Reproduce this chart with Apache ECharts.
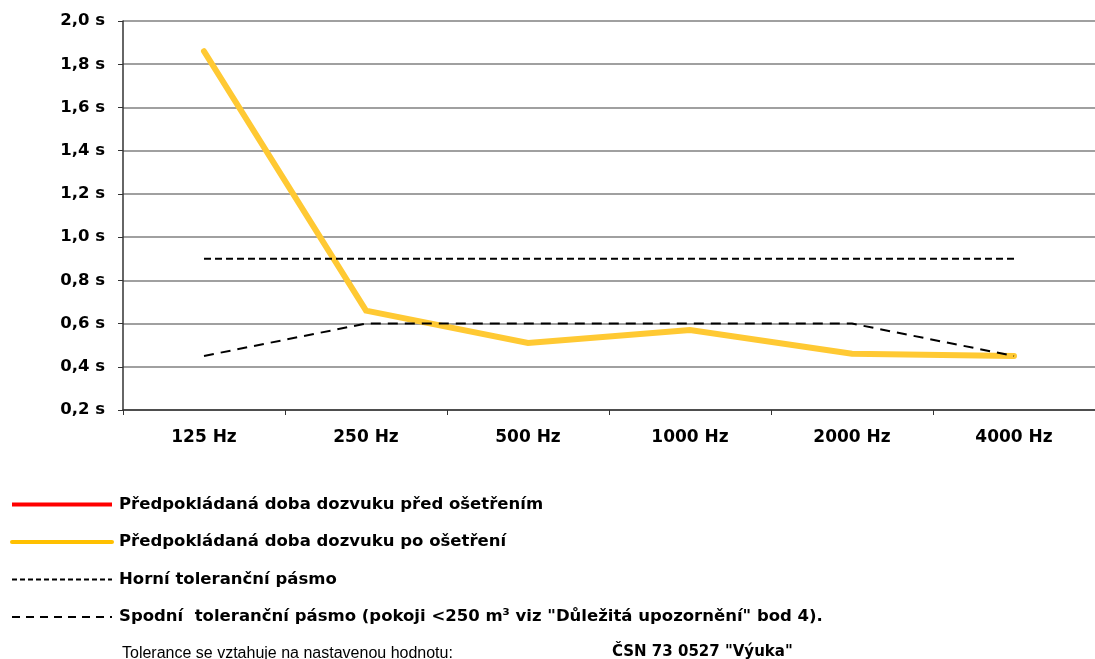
<!DOCTYPE html>
<html>
<head>
    <meta charset="utf-8">
    <title>Doba dozvuku</title>
    <script src="https://cdn.jsdelivr.net/npm/echarts@6.0.0/dist/echarts.min.js"></script>
    <style>
        html, body { margin: 0; padding: 0; background: #fff; }
        #main { width: 1095px; height: 659px; }
    </style>
</head>
<body>
<div id="main"></div>
<script>
    // pásma a hodnoty
    var frequencies = ['125 Hz', '250 Hz', '500 Hz', '1000 Hz', '2000 Hz', '4000 Hz']
    var beforeTreatment = []
    var afterTreatment = [1.86, 0.66, 0.51, 0.57, 0.46, 0.45]
    var upperTolerance = [0.9, 0.9, 0.9, 0.9, 0.9, 0.9]
    var lowerTolerance = [0.45, 0.6, 0.6, 0.6, 0.6, 0.45]

    var names = [
        'Předpokládaná doba dozvuku před ošetřením',
        'Předpokládaná doba dozvuku po ošetření',
        'Horní toleranční pásmo',
        'Spodní  toleranční pásmo (pokoji <250 m³ viz "Důležitá upozornění" bod 4).'
    ]

    var font = 'Arial, "Liberation Sans", sans-serif'
    var boldFont = '"DejaVu Sans", Arial, sans-serif'

    var myChart = echarts.init(document.getElementById('main'))

    myChart.setOption({
        animation: false,
        textStyle: { fontFamily: font },
        grid: {
            left: 123,
            right: -15,
            top: 21,
            bottom: 249
        },
        legend: {
            orient: 'vertical',
            left: 5,
            top: 491,
            itemWidth: 100,
            itemHeight: 14,
            itemGap: 20.5,
            itemStyle: { opacity: 0 },
            textStyle: {
                fontFamily: boldFont,
                fontWeight: 'bold',
                fontSize: 16.5,
                color: '#000',
                padding: [0, 0, 0, 2]
            },
            data: [
                { name: names[0], lineStyle: { width: 4 } },
                { name: names[1], lineStyle: { color: '#ffc000', width: 4 } },
                { name: names[2], lineStyle: { width: 2, type: [5, 3] } },
                { name: names[3], lineStyle: { width: 2, type: [8, 6] } }
            ]
        },
        xAxis: {
            type: 'category',
            data: frequencies,
            boundaryGap: true,
            axisLine: { lineStyle: { color: '#333', width: 1.5 } },
            axisTick: { show: true, length: 5, lineStyle: { color: '#333' } },
            axisLabel: {
                fontFamily: boldFont,
                fontWeight: 'bold',
                fontSize: 17,
                color: '#000',
                margin: 19
            }
        },
        yAxis: {
            type: 'value',
            min: 0.2,
            max: 2.0,
            interval: 0.2,
            axisLine: { show: true, lineStyle: { color: '#333', width: 1.5 } },
            axisTick: { show: true, length: 5, lineStyle: { color: '#333' } },
            splitLine: { lineStyle: { color: '#808080', width: 1.5 } },
            axisLabel: {
                fontFamily: boldFont,
                fontWeight: 'bold',
                fontSize: 16.5,
                color: '#000',
                margin: 18,
                formatter: function (v) {
                    return v.toFixed(1).replace('.', ',') + ' s'
                }
            }
        },
        series: [
            {
                name: names[0],
                type: 'line',
                data: beforeTreatment,
                symbol: 'none',
                lineStyle: { color: '#ff0000', width: 4 },
                itemStyle: { color: '#ff0000', opacity: 0 }
            },
            {
                name: names[1],
                type: 'line',
                data: afterTreatment,
                symbol: 'none',
                z: 3,
                lineStyle: { color: '#ffc933', width: 6, cap: 'round', join: 'miter' },
                itemStyle: { color: '#ffc000', opacity: 0 }
            },
            {
                name: names[2],
                type: 'line',
                data: upperTolerance,
                symbol: 'none',
                z: 4,
                lineStyle: { color: '#000', width: 2, type: [7, 4] },
                itemStyle: { color: '#000', opacity: 0 }
            },
            {
                name: names[3],
                type: 'line',
                data: lowerTolerance,
                symbol: 'none',
                z: 4,
                lineStyle: { color: '#000', width: 2, type: [10, 7] },
                itemStyle: { color: '#000', opacity: 0 }
            }
        ],
        graphic: [
            {
                type: 'text',
                left: 122,
                top: 646,
                style: {
                    text: 'Tolerance se vztahuje na nastavenou hodnotu:',
                    font: '16px ' + font,
                    fill: '#000'
                }
            },
            {
                type: 'text',
                left: 612,
                top: 645,
                style: {
                    text: 'ČSN 73 0527 "Výuka"',
                    font: 'bold 15px ' + boldFont,
                    fill: '#000'
                }
            }
        ]
    })
</script>
</body>
</html>
